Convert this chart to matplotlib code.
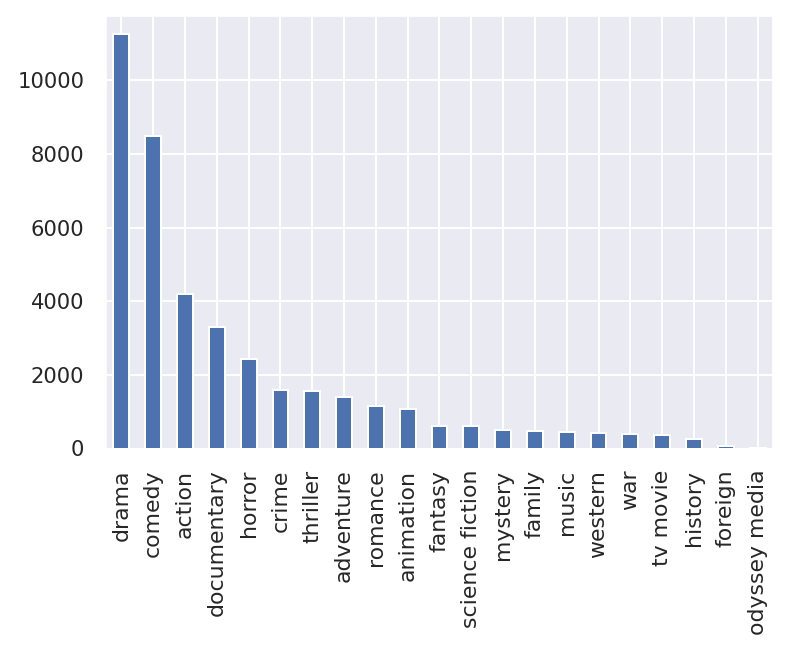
import matplotlib
matplotlib.use("Agg")
import matplotlib.pyplot as plt
import pandas as pd
import seaborn as sns

genres = ["drama", "comedy", "action", "documentary", "horror", "crime", "thriller",
          "adventure", "romance", "animation", "fantasy", "science fiction", "mystery",
          "family", "music", "western", "war", "tv movie", "history", "foreign",
          "odyssey media"]
counts = [11250, 8500, 4210, 3310, 2440, 1590, 1550, 1410, 1150, 1080, 620, 610,
          510, 480, 460, 430, 390, 375, 260, 80, 1]

sns.set_theme()

fig = plt.figure(figsize=(7.87, 6.48), dpi=100)
ax = fig.add_axes([105.5 / 787, 1 - 448.5 / 648, 668 / 787, 433 / 648])

s = pd.Series(counts, index=genres)
s.plot(kind="bar", ax=ax, color="#4c72b0", edgecolor="white", linewidth=1.44)

ax.grid(linewidth=1.4)
ax.tick_params(axis="y", labelsize=15.2, pad=9.3)
ax.tick_params(axis="x", labelsize=15.8, pad=9.3)
ax.set_ylim(0, 11766)

plt.savefig("out.png", dpi=100)
